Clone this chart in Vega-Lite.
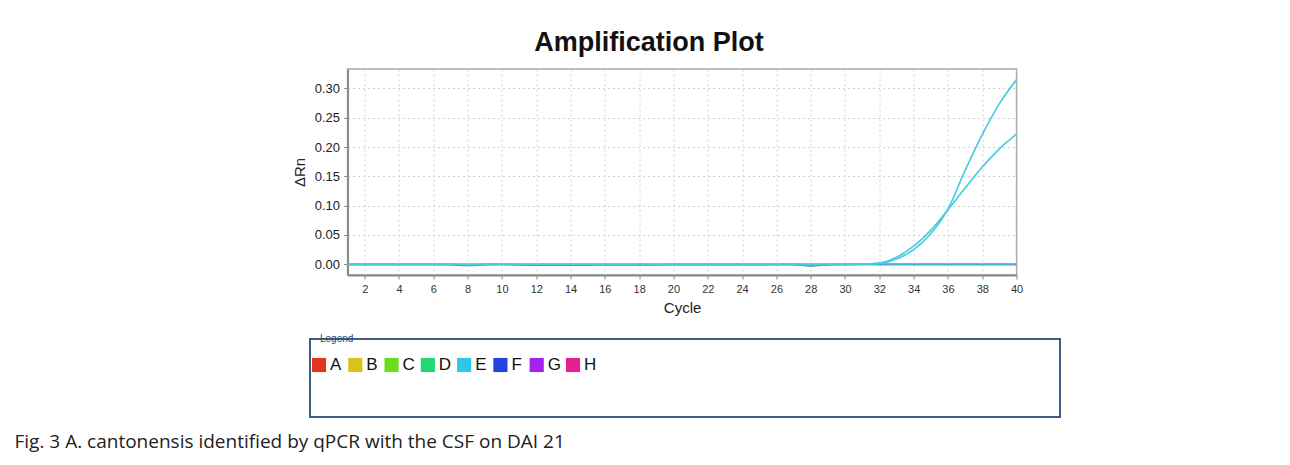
{
  "$schema": "https://vega.github.io/schema/vega-lite/v6.json",
  "background": "white",
  "padding": {"left": 14, "top": 28, "right": 10, "bottom": 5},
  "config": {
    "font": "Liberation Sans",
    "view": {"stroke": null},
    "concat": {"spacing": 17}
  },
  "title": {
    "text": "Fig. 3 A. cantonensis identified by qPCR with the CSF on DAI 21",
    "orient": "bottom",
    "anchor": "start",
    "font": "Open Sans",
    "fontSize": 19,
    "fontWeight": "normal",
    "color": "#222222",
    "dx": -277,
    "offset": 15
  },
  "center": true,
  "resolve": {"scale": {"color": "independent", "x": "independent", "y": "independent"}},
  "vconcat": [
    {
      "width": 669,
      "height": 206,
      "title": {
        "text": "Amplification Plot",
        "fontSize": 27,
        "fontWeight": "bold",
        "anchor": "middle",
        "dx": -33,
        "offset": 12,
        "color": "#111111"
      },
      "view": {"stroke": "#a8a8a8", "strokeWidth": 1.5},
      "data": {
        "values": [
          {"well": "E4", "cycle": 1, "dRn": 0}, {"well": "E4", "cycle": 2, "dRn": 0}, {"well": "E4", "cycle": 3, "dRn": 0}, {"well": "E4", "cycle": 4, "dRn": 0}, {"well": "E4", "cycle": 5, "dRn": 0}, {"well": "E4", "cycle": 6, "dRn": 0}, {"well": "E4", "cycle": 7, "dRn": -0.0005}, {"well": "E4", "cycle": 8, "dRn": -0.002}, {"well": "E4", "cycle": 9, "dRn": -0.0005}, {"well": "E4", "cycle": 10, "dRn": 0}, {"well": "E4", "cycle": 11, "dRn": -0.001}, {"well": "E4", "cycle": 12, "dRn": -0.0012}, {"well": "E4", "cycle": 13, "dRn": -0.0012}, {"well": "E4", "cycle": 14, "dRn": -0.0013}, {"well": "E4", "cycle": 15, "dRn": -0.0012}, {"well": "E4", "cycle": 16, "dRn": -0.001}, {"well": "E4", "cycle": 17, "dRn": -0.001}, {"well": "E4", "cycle": 18, "dRn": -0.001}, {"well": "E4", "cycle": 19, "dRn": -0.0008}, {"well": "E4", "cycle": 20, "dRn": -0.0006}, {"well": "E4", "cycle": 21, "dRn": -0.0005}, {"well": "E4", "cycle": 22, "dRn": -0.0005}, {"well": "E4", "cycle": 23, "dRn": -0.0005}, {"well": "E4", "cycle": 24, "dRn": -0.0005}, {"well": "E4", "cycle": 25, "dRn": -0.0004}, {"well": "E4", "cycle": 26, "dRn": -0.0003}, {"well": "E4", "cycle": 27, "dRn": -0.0006}, {"well": "E4", "cycle": 28, "dRn": -0.0025}, {"well": "E4", "cycle": 29, "dRn": -0.0008}, {"well": "E4", "cycle": 30, "dRn": 0}, {"well": "E4", "cycle": 31, "dRn": 0}, {"well": "E4", "cycle": 32, "dRn": 0}, {"well": "E4", "cycle": 33, "dRn": 0}, {"well": "E4", "cycle": 34, "dRn": 0}, {"well": "E4", "cycle": 35, "dRn": 0}, {"well": "E4", "cycle": 36, "dRn": 0}, {"well": "E4", "cycle": 37, "dRn": 0}, {"well": "E4", "cycle": 38, "dRn": 0}, {"well": "E4", "cycle": 39, "dRn": 0}, {"well": "E4", "cycle": 40, "dRn": 0},
          {"well": "E3", "cycle": 1, "dRn": 0}, {"well": "E3", "cycle": 2, "dRn": 0}, {"well": "E3", "cycle": 3, "dRn": 0}, {"well": "E3", "cycle": 4, "dRn": 0}, {"well": "E3", "cycle": 5, "dRn": 0}, {"well": "E3", "cycle": 6, "dRn": 0}, {"well": "E3", "cycle": 7, "dRn": 0}, {"well": "E3", "cycle": 8, "dRn": 0}, {"well": "E3", "cycle": 9, "dRn": 0}, {"well": "E3", "cycle": 10, "dRn": 0}, {"well": "E3", "cycle": 11, "dRn": 0}, {"well": "E3", "cycle": 12, "dRn": 0}, {"well": "E3", "cycle": 13, "dRn": 0}, {"well": "E3", "cycle": 14, "dRn": 0}, {"well": "E3", "cycle": 15, "dRn": 0}, {"well": "E3", "cycle": 16, "dRn": 0}, {"well": "E3", "cycle": 17, "dRn": 0}, {"well": "E3", "cycle": 18, "dRn": 0}, {"well": "E3", "cycle": 19, "dRn": 0}, {"well": "E3", "cycle": 20, "dRn": 0}, {"well": "E3", "cycle": 21, "dRn": 0}, {"well": "E3", "cycle": 22, "dRn": 0}, {"well": "E3", "cycle": 23, "dRn": 0}, {"well": "E3", "cycle": 24, "dRn": 0}, {"well": "E3", "cycle": 25, "dRn": 0}, {"well": "E3", "cycle": 26, "dRn": 0}, {"well": "E3", "cycle": 27, "dRn": 0}, {"well": "E3", "cycle": 28, "dRn": 0}, {"well": "E3", "cycle": 29, "dRn": 0}, {"well": "E3", "cycle": 30, "dRn": 0}, {"well": "E3", "cycle": 31, "dRn": 0}, {"well": "E3", "cycle": 32, "dRn": 0}, {"well": "E3", "cycle": 33, "dRn": 0}, {"well": "E3", "cycle": 34, "dRn": 0}, {"well": "E3", "cycle": 35, "dRn": 0}, {"well": "E3", "cycle": 36, "dRn": 0}, {"well": "E3", "cycle": 37, "dRn": 0}, {"well": "E3", "cycle": 38, "dRn": 0}, {"well": "E3", "cycle": 39, "dRn": 0}, {"well": "E3", "cycle": 40, "dRn": 0},
          {"well": "E2", "cycle": 1, "dRn": 0}, {"well": "E2", "cycle": 2, "dRn": 0}, {"well": "E2", "cycle": 3, "dRn": 0}, {"well": "E2", "cycle": 4, "dRn": 0}, {"well": "E2", "cycle": 5, "dRn": 0}, {"well": "E2", "cycle": 6, "dRn": 0}, {"well": "E2", "cycle": 7, "dRn": 0}, {"well": "E2", "cycle": 8, "dRn": -0.0006}, {"well": "E2", "cycle": 9, "dRn": 0}, {"well": "E2", "cycle": 10, "dRn": 0.0003}, {"well": "E2", "cycle": 11, "dRn": 0}, {"well": "E2", "cycle": 12, "dRn": 0}, {"well": "E2", "cycle": 13, "dRn": 0}, {"well": "E2", "cycle": 14, "dRn": 0}, {"well": "E2", "cycle": 15, "dRn": 0}, {"well": "E2", "cycle": 16, "dRn": 0}, {"well": "E2", "cycle": 17, "dRn": 0}, {"well": "E2", "cycle": 18, "dRn": 0}, {"well": "E2", "cycle": 19, "dRn": 0}, {"well": "E2", "cycle": 20, "dRn": 0}, {"well": "E2", "cycle": 21, "dRn": 0}, {"well": "E2", "cycle": 22, "dRn": 0}, {"well": "E2", "cycle": 23, "dRn": 0}, {"well": "E2", "cycle": 24, "dRn": 0}, {"well": "E2", "cycle": 25, "dRn": 0}, {"well": "E2", "cycle": 26, "dRn": 0}, {"well": "E2", "cycle": 27, "dRn": 0.0003}, {"well": "E2", "cycle": 28, "dRn": -0.0005}, {"well": "E2", "cycle": 29, "dRn": 0}, {"well": "E2", "cycle": 30, "dRn": 0}, {"well": "E2", "cycle": 31, "dRn": 0.0003}, {"well": "E2", "cycle": 32, "dRn": 0.002}, {"well": "E2", "cycle": 33, "dRn": 0.012}, {"well": "E2", "cycle": 34, "dRn": 0.031}, {"well": "E2", "cycle": 35, "dRn": 0.058}, {"well": "E2", "cycle": 36, "dRn": 0.093}, {"well": "E2", "cycle": 37, "dRn": 0.13}, {"well": "E2", "cycle": 38, "dRn": 0.166}, {"well": "E2", "cycle": 39, "dRn": 0.197}, {"well": "E2", "cycle": 40, "dRn": 0.222},
          {"well": "E1", "cycle": 1, "dRn": 0}, {"well": "E1", "cycle": 2, "dRn": 0}, {"well": "E1", "cycle": 3, "dRn": 0}, {"well": "E1", "cycle": 4, "dRn": 0}, {"well": "E1", "cycle": 5, "dRn": 0}, {"well": "E1", "cycle": 6, "dRn": 0}, {"well": "E1", "cycle": 7, "dRn": 0}, {"well": "E1", "cycle": 8, "dRn": -0.0004}, {"well": "E1", "cycle": 9, "dRn": 0}, {"well": "E1", "cycle": 10, "dRn": 0.0002}, {"well": "E1", "cycle": 11, "dRn": 0}, {"well": "E1", "cycle": 12, "dRn": 0}, {"well": "E1", "cycle": 13, "dRn": 0}, {"well": "E1", "cycle": 14, "dRn": 0}, {"well": "E1", "cycle": 15, "dRn": 0}, {"well": "E1", "cycle": 16, "dRn": 0}, {"well": "E1", "cycle": 17, "dRn": 0}, {"well": "E1", "cycle": 18, "dRn": 0}, {"well": "E1", "cycle": 19, "dRn": 0}, {"well": "E1", "cycle": 20, "dRn": 0}, {"well": "E1", "cycle": 21, "dRn": 0}, {"well": "E1", "cycle": 22, "dRn": 0}, {"well": "E1", "cycle": 23, "dRn": 0}, {"well": "E1", "cycle": 24, "dRn": 0}, {"well": "E1", "cycle": 25, "dRn": 0}, {"well": "E1", "cycle": 26, "dRn": 0}, {"well": "E1", "cycle": 27, "dRn": 0.0002}, {"well": "E1", "cycle": 28, "dRn": -0.0004}, {"well": "E1", "cycle": 29, "dRn": 0}, {"well": "E1", "cycle": 30, "dRn": 0}, {"well": "E1", "cycle": 31, "dRn": 0.0002}, {"well": "E1", "cycle": 32, "dRn": 0.0015}, {"well": "E1", "cycle": 33, "dRn": 0.009}, {"well": "E1", "cycle": 34, "dRn": 0.025}, {"well": "E1", "cycle": 35, "dRn": 0.052}, {"well": "E1", "cycle": 36, "dRn": 0.094}, {"well": "E1", "cycle": 37, "dRn": 0.16}, {"well": "E1", "cycle": 38, "dRn": 0.221}, {"well": "E1", "cycle": 39, "dRn": 0.274}, {"well": "E1", "cycle": 40, "dRn": 0.315}
        ]
      },
      "mark": {"type": "line", "strokeWidth": 1.7, "interpolate": "monotone", "clip": true},
      "encoding": {
        "x": {
          "field": "cycle",
          "type": "quantitative",
          "scale": {"domain": [1, 40], "nice": false, "zero": false},
          "axis": {
            "values": [2, 4, 6, 8, 10, 12, 14, 16, 18, 20, 22, 24, 26, 28, 30, 32, 34, 36, 38, 40],
            "title": "Cycle",
            "titleFontSize": 15,
            "titleFontWeight": "normal",
            "titleColor": "#222222",
            "titlePadding": 6,
            "labelFontSize": 11,
            "labelColor": "#333333",
            "labelPadding": 4,
            "labelFlush": false,
            "labelOverlap": false,
            "tickSize": 4,
            "tickColor": "#888888",
            "domainColor": "#8a8a8a",
            "domainWidth": 2,
            "grid": true,
            "gridColor": "#cfcfcf",
            "gridDash": [2, 3]
          }
        },
        "y": {
          "field": "dRn",
          "type": "quantitative",
          "scale": {"domain": [-0.0182, 0.333], "nice": false, "zero": false},
          "axis": {
            "values": [0, 0.05, 0.1, 0.15, 0.2, 0.25, 0.3],
            "format": ".2f",
            "title": "ΔRn",
            "titleFontSize": 15,
            "titleFontWeight": "normal",
            "titleColor": "#222222",
            "titlePadding": 7,
            "labelFontSize": 13,
            "labelColor": "#222222",
            "labelPadding": 4,
            "tickSize": 4,
            "tickColor": "#888888",
            "domainColor": "#8a8a8a",
            "domainWidth": 2,
            "grid": true,
            "gridColor": "#cfcfcf",
            "gridDash": [2, 3]
          }
        },
        "color": {
          "field": "well",
          "type": "nominal",
          "scale": {"domain": ["E4", "E3", "E2", "E1"], "range": ["#2b8aa0", "#45aed2", "#46cde0", "#46cde0"]},
          "legend": null
        }
      }
    },
    {
      "width": 750,
      "height": 78,
      "title": {
        "text": "Legend",
        "fontSize": 10,
        "fontWeight": "normal",
        "anchor": "start",
        "dx": 10,
        "offset": -5,
        "color": "#2a4a70"
      },
      "view": {"stroke": "#3d5f85", "strokeWidth": 2},
      "data": {
        "values": [
          {"series": "A"}, {"series": "B"}, {"series": "C"}, {"series": "D"},
          {"series": "E"}, {"series": "F"}, {"series": "G"}, {"series": "H"}
        ]
      },
      "encoding": {
        "x": {"field": "series", "type": "nominal", "scale": {"type": "point", "range": [9, 263], "padding": 0}, "axis": null},
        "y": {"datum": 2, "type": "quantitative", "scale": {"domain": [0, 3]}, "axis": null}
      },
      "layer": [
        {
          "mark": {"type": "square", "size": 200, "opacity": 1, "filled": true},
          "encoding": {
            "color": {
              "field": "series",
              "type": "nominal",
              "scale": {
                "domain": ["A", "B", "C", "D", "E", "F", "G", "H"],
                "range": ["#e2361c", "#d9c21a", "#6bdc1e", "#22d872", "#2ec8e6", "#2244e0", "#a322ee", "#e6208e"]
              },
              "legend": null
            }
          }
        },
        {
          "mark": {"type": "text", "align": "left", "baseline": "middle", "dx": 11, "fontSize": 17, "color": "#111111"},
          "encoding": {"text": {"field": "series"}}
        }
      ]
    }
  ]
}
